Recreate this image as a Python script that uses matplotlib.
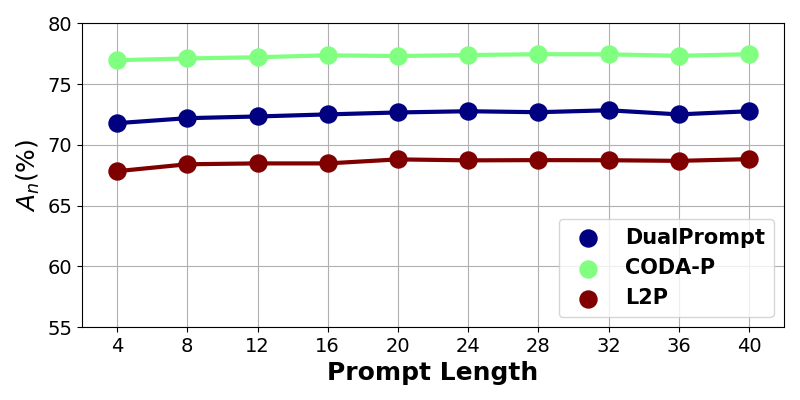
import matplotlib
matplotlib.use('Agg')
import matplotlib.pyplot as plt

prompt_len = [4, 8, 12, 16, 20, 24, 28, 32, 36, 40]
dualprompt = [71.78, 72.19, 72.33, 72.5, 72.66, 72.76, 72.68, 72.84, 72.5, 72.76]
coda_p = [76.96, 77.1, 77.2, 77.36, 77.3, 77.38, 77.45, 77.44, 77.32, 77.45]
l2p = [67.83, 68.4, 68.47, 68.47, 68.8, 68.72, 68.74, 68.73, 68.68, 68.82]

series = [('DualPrompt', dualprompt, '#000080'),
          ('CODA-P', coda_p, '#80ff80'),
          ('L2P', l2p, '#800000')]

fig, ax = plt.subplots(figsize=(8, 4), dpi=100)
for name, vals, col in series:
    ax.plot(prompt_len, vals, color=col, linewidth=3, zorder=2)
    ax.scatter(prompt_len, vals, color=col, s=150, label=name, zorder=3)

ax.set_ylim(55, 80)
ax.set_xlim(2.0, 42.0)
ax.set_xticks(prompt_len)
ax.tick_params(labelsize=14)
ax.grid(True, color='#b0b0b0')
ax.set_axisbelow(True)
ax.set_xlabel('Prompt Length', fontsize=18, fontweight='bold')
ax.set_ylabel(r'$A_n(\%)$', fontsize=18)
ax.legend(loc='lower right', prop={'size': 15, 'weight': 'bold'})
plt.subplots_adjust(left=0.1025, right=0.98, top=0.942, bottom=0.182)
plt.savefig('out.png')
